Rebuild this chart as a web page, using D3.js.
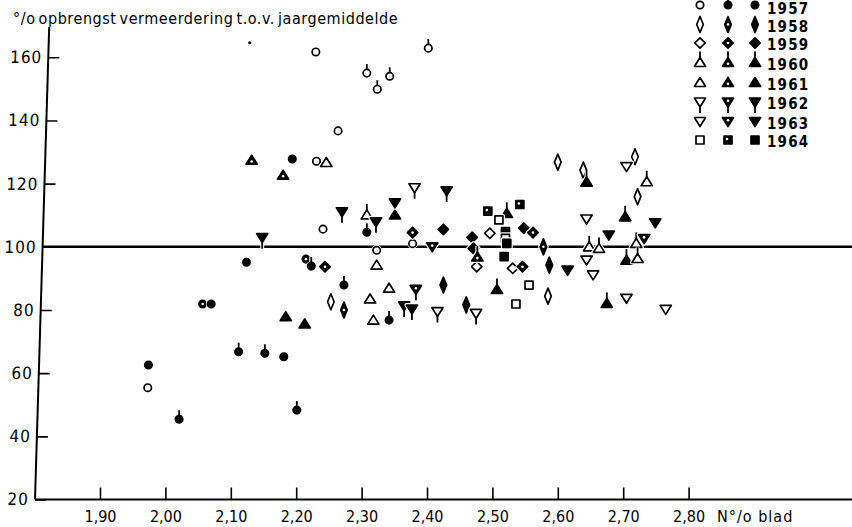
<!DOCTYPE html>
<html>
<head>
<meta charset="utf-8">
<script src="https://cdn.jsdelivr.net/npm/d3@7/dist/d3.min.js"></script>
<style>
  body { margin: 0; background: #fff; }
  svg { display: block; }
  text { fill: #000; }
</style>
</head>
<body>
<svg id="chart" width="852" height="527"></svg>
<script>
// Axis ticks
const xTicks = [1.90, 2.00, 2.10, 2.20, 2.30, 2.40, 2.50, 2.60, 2.70, 2.80];
const yTicks = [20, 40, 60, 80, 100, 120, 140, 160];
const years = [1957, 1958, 1959, 1960, 1961, 1962, 1963, 1964];

// [N% blad, opbrengst % t.o.v. jaargemiddelde, variant]
// variant: o = open, h = half, f = filled; 1957 also po/pf (with stem) and dot
const pts1957 = [
  [1.973, 55.4, "o"], [1.974, 62.6, "f"], [2.021, 45.4, "pf"], [2.112, 66.8, "pf"],
  [2.152, 66.3, "pf"], [2.181, 65.2, "f"], [2.201, 48.3, "pf"], [2.057, 81.9, "h"],
  [2.070, 81.9, "f"], [2.124, 95.1, "f"], [2.194, 127.8, "f"], [2.230, 161.7, "o"],
  [2.264, 136.7, "o"], [2.231, 127.1, "o"], [2.241, 105.6, "o"], [2.215, 96.1, "h"],
  [2.223, 93.9, "pf"], [2.273, 87.9, "pf"], [2.342, 76.8, "pf"], [2.308, 104.6, "pf"],
  [2.323, 98.9, "o"], [2.378, 101.0, "o"], [2.308, 155.0, "po"], [2.324, 149.9, "po"],
  [2.343, 154.0, "po"], [2.402, 162.9, "po"], [2.129, 164.6, "dot"]
];
const pts1958 = [
  [2.253, 82.6, "o"], [2.273, 80.0, "h"], [2.600, 126.8, "o"], [2.578, 100.0, "h"],
  [2.587, 94.2, "f"], [2.585, 84.4, "o"], [2.425, 87.9, "f"], [2.460, 81.6, "f"],
  [2.639, 124.3, "o"], [2.718, 128.5, "o"], [2.722, 115.9, "o"]
];
const pts1959 = [
  [2.244, 93.7, "h"], [2.378, 104.5, "h"], [2.425, 105.5, "f"], [2.469, 103.0, "f"],
  [2.471, 99.5, "f"], [2.496, 104.3, "o"], [2.548, 105.9, "f"], [2.562, 104.5, "h"],
  [2.476, 93.7, "o"], [2.531, 93.2, "o"], [2.546, 93.7, "h"]
];
const pts1960 = [
  [2.308, 110.1, "o"], [2.351, 110.1, "f"], [2.522, 110.6, "f"], [2.477, 96.8, "h"],
  [2.507, 86.5, "f"], [2.644, 120.5, "f"], [2.736, 120.6, "o"], [2.703, 109.5, "f"],
  [2.720, 101.1, "o"], [2.648, 100.0, "o"], [2.663, 99.5, "o"], [2.705, 95.8, "f"],
  [2.722, 96.3, "o"], [2.675, 82.1, "f"]
];
const pts1961 = [
  [2.132, 127.4, "h"], [2.180, 122.7, "h"], [2.246, 126.7, "o"], [2.323, 94.2, "o"],
  [2.342, 86.9, "o"], [2.318, 76.8, "o"], [2.184, 77.9, "f"], [2.213, 75.6, "f"],
  [2.313, 83.5, "o"]
];
const pts1962 = [
  [2.148, 102.9, "f"], [2.270, 111.1, "f"], [2.322, 107.9, "f"], [2.381, 118.7, "o"],
  [2.430, 117.7, "f"], [2.383, 86.5, "h"], [2.365, 81.3, "f"], [2.377, 80.3, "f"],
  [2.416, 79.5, "o"], [2.475, 78.9, "o"]
];
const pts1963 = [
  [2.351, 113.9, "f"], [2.408, 100.0, "h"], [2.615, 92.6, "f"], [2.705, 125.4, "o"],
  [2.749, 107.6, "f"], [2.644, 108.8, "o"], [2.678, 103.7, "f"], [2.732, 102.6, "h"],
  [2.644, 95.8, "o"], [2.654, 91.1, "o"], [2.705, 83.7, "o"], [2.765, 80.2, "o"]
];
const pts1964 = [
  [2.542, 113.4, "h"], [2.493, 111.3, "h"], [2.510, 108.5, "o"], [2.520, 104.8, "f"],
  [2.520, 102.7, "o"], [2.522, 101.1, "f"], [2.518, 96.9, "f"], [2.556, 87.9, "o"],
  [2.536, 81.9, "o"]
];

const seriesByYear = {
  1957: pts1957, 1958: pts1958, 1959: pts1959, 1960: pts1960,
  1961: pts1961, 1962: pts1962, 1963: pts1963, 1964: pts1964
};
const shapeByYear = {
  1957: "circle", 1958: "lozenge", 1959: "diamond", 1960: "flask",
  1961: "triUp", 1962: "goblet", 1963: "triDown", 1964: "square"
};

const svg = d3.select("#chart");
const FONT = "'DejaVu Sans Condensed', 'DejaVu Sans', sans-serif";

const x = d3.scaleLinear().domain([1.90, 2.80]).range([100, 688.6]);
const y = d3.scaleLinear().domain([20, 160]).range([499.5, 57.3]);

// Marker glyphs, drawn around (0,0)
const bodyPath = {
  lozenge: "M0,-8L3.3,0L0,8L-3.3,0Z",
  diamond: "M0,-5.2L5.2,0L0,5.2L-5.2,0Z",
  triUp: "M0,-5L5.6,4L-5.6,4Z",
  flask: "M0,-5L5.6,4L-5.6,4Z",
  triDown: "M-5.6,-4L5.6,-4L0,5Z",
  goblet: "M-5.6,-4L5.6,-4L0,5Z",
  square: "M-4,-4H4V4H-4Z"
};
const stemPath = {
  pin: "M0,-3V-9",
  flask: "M0,-4V-11",
  goblet: "M0,4V11"
};

function drawGlyph(g, shape, variant) {
  let s = shape;
  if (shape === "circle" && (variant === "po" || variant === "pf")) s = "pin";
  const fill = variant === "o" || variant === "po" ? "#fff" : "#000";
  const layers = [["#fff", 4], ["#000", 1.7]];
  layers.forEach(([stroke, w], i) => {
    if (stemPath[s]) {
      g.append("path").attr("d", stemPath[s])
        .attr("stroke", stroke).attr("stroke-width", i === 0 ? 4 : 1.8).attr("fill", "none");
    }
    if (s === "circle" || s === "pin") {
      const r = variant === "dot" ? 1.6 : 3.7;
      g.append("circle").attr("r", r)
        .attr("fill", i === 0 ? "#fff" : fill)
        .attr("stroke", stroke).attr("stroke-width", i === 0 ? 3 : (variant === "dot" ? 0 : 1.7));
    } else {
      g.append("path").attr("d", bodyPath[s])
        .attr("fill", i === 0 ? "#fff" : fill)
        .attr("stroke", stroke).attr("stroke-width", w)
        .attr("stroke-linejoin", "round");
    }
  });
  if (variant === "h") {
    const cy = s === "triUp" || s === "flask" ? 1.2 : (s === "triDown" || s === "goblet" ? -1.2 : 0);
    g.append("circle").attr("cx", s === "square" ? -1 : 0).attr("cy", s === "square" ? -1 : cy)
      .attr("r", 1.3).attr("fill", "#fff");
  }
}

// Title
svg.append("text")
  .attr("x", 13).attr("y", 24)
  .attr("font-family", FONT).attr("font-size", 16)
  .attr("letter-spacing", 0.55).attr("word-spacing", -2)
  .text("°/o opbrengst vermeerdering t.o.v. jaargemiddelde");

// Reference line at 100
svg.append("line")
  .attr("x1", 42).attr("x2", 852)
  .attr("y1", y(100)).attr("y2", y(100))
  .attr("stroke", "#000").attr("stroke-width", 2.4);

// X axis
const xAxis = svg.append("g")
  .attr("transform", `translate(0,${y(20)})`)
  .call(d3.axisBottom(x).tickValues(xTicks).tickSize(-12).tickPadding(11)
    .tickFormat(d => d3.format(".2f")(d).replace(".", ",")));
xAxis.select(".domain").remove();
xAxis.selectAll(".tick line").attr("stroke-width", 1.6);
xAxis.selectAll(".tick text").attr("font-family", FONT).attr("font-size", 16);
svg.append("line")
  .attr("x1", 35).attr("x2", 852).attr("y1", y(20)).attr("y2", y(20))
  .attr("stroke", "#000").attr("stroke-width", 2);
svg.append("text")
  .attr("x", 717).attr("y", 522)
  .attr("font-family", FONT).attr("font-size", 16).attr("letter-spacing", 1)
  .text("N°/o blad");

// Y axis (slightly slanted)
const yAxis = svg.append("g")
  .attr("transform", "translate(50,0) skewX(-1.72)")
  .call(d3.axisLeft(y).tickValues(yTicks).tickSize(-11).tickPadding(6));
yAxis.select(".domain").remove();
yAxis.selectAll(".tick line").attr("stroke-width", 1.6);
yAxis.selectAll(".tick text").attr("font-family", FONT).attr("font-size", 17).attr("letter-spacing", 1);
yAxis.append("line")
  .attr("x1", 0).attr("x2", 0).attr("y1", 27).attr("y2", y(20))
  .attr("stroke", "#000").attr("stroke-width", 2);

// Data marks
const marks = svg.append("g");
years.forEach(yr => {
  seriesByYear[yr].forEach(([n, v, variant]) => {
    const g = marks.append("g").attr("transform", `translate(${x(n)},${y(v)})`);
    drawGlyph(g, shapeByYear[yr], variant);
  });
});

// Legend
const legendCols = [700, 728, 755];
const legendRows = [5, 24.5, 43, 62.5, 82.5, 102, 121.5, 140];
const legend = svg.append("g");
years.forEach((yr, i) => {
  const ly = legendRows[i];
  const variants = yr === 1957 ? ["o", "pf", "f"] : ["o", "h", "f"];
  variants.forEach((vr, j) => {
    const g = legend.append("g").attr("transform", `translate(${legendCols[j]},${ly})`);
    drawGlyph(g, shapeByYear[yr], vr);
  });
  legend.append("text")
    .attr("x", 767).attr("y", i === 0 ? 14.2 : ly + 7)
    .attr("font-family", FONT).attr("font-size", 15).attr("font-weight", "bold")
    .attr("letter-spacing", 1.2)
    .text(yr);
});
</script>
</body>
</html>
